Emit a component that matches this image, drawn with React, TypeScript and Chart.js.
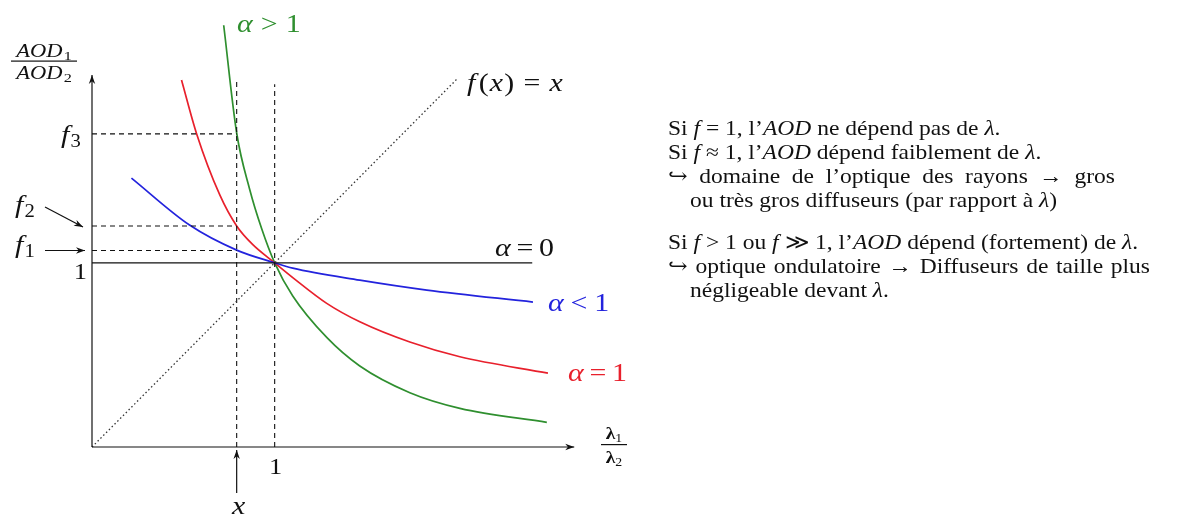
import React, { useEffect, useRef } from "react";
import { Chart, registerables } from "chart.js";
Chart.register(...registerables);

// Curves: AOD1/AOD2 as a function of λ1/λ2
const greenX = [0.721, 0.792, 0.863, 0.929, 1.0, 1.099, 1.285, 1.466, 1.74, 2.014, 2.49];
const greenY = [2.29, 1.705, 1.4, 1.185, 1.0, 0.82, 0.595, 0.44, 0.295, 0.21, 0.134];
const redX = [0.49, 0.573, 0.699, 0.792, 0.879, 1.0, 1.099, 1.285, 1.466, 1.74, 2.014, 2.496];
const redY = [1.993, 1.7, 1.37, 1.2, 1.1, 1.0, 0.92, 0.78, 0.68, 0.57, 0.49, 0.401];
const blueX = [0.216, 0.534, 0.792, 1.0, 1.099, 1.466, 1.833, 2.414];
const blueY = [1.46, 1.205, 1.069, 1.0, 0.971, 0.906, 0.852, 0.787];

const identityX = [0, 2.0];
const alphaZeroX = [0, 2.41];
const xMark = 0.792;
const fLevels = [1.067, 1.2, 1.7]; // f1, f2, f3
const dashedTops = [2.0, 1.97]; // vertical dashed lines at x and at 1
const xAxisEnd = 2.64;
const yAxisEnd = 2.02;

const GREEN = "#2f8f2f";
const RED = "#e8202c";
const BLUE = "#2323dd";
const SERIF = "'Liberation Serif', 'DejaVu Serif', serif";

const rightLines = [
  { top: 128, parts: [["Si ", 0], ["f", 1], [" = 1, l’", 0], ["AOD", 1], [" ne dépend pas de ", 0], ["λ", 1], [".", 0]] },
  { top: 152, parts: [["Si ", 0], ["f", 1], [" ≈ 1, l’", 0], ["AOD", 1], [" dépend faiblement de ", 0], ["λ", 1], [".", 0]] },
  { top: 176, parts: [["↪ domaine de l’optique des rayons → gros", 0]], justify: 447 },
  { top: 200, indent: 22, parts: [["ou très gros diffuseurs (par rapport à ", 0], ["λ", 1], [")", 0]] },
  { top: 242, parts: [["Si ", 0], ["f", 1], [" > 1 ou ", 0], ["f", 1], [" ≫ 1, l’", 0], ["AOD", 1], [" dépend (fortement) de ", 0], ["λ", 1], [".", 0]] },
  { top: 266, parts: [["↪ optique ondulatoire → Diffuseurs de taille plus", 0]], justify: 482 },
  { top: 290, indent: 22, parts: [["négligeable devant ", 0], ["λ", 1], [".", 0]] },
];
const TEXT_SCALE = 1.12;

type Part = { t: string; f: string; dy?: number; gap?: number };
function drawParts(ctx: CanvasRenderingContext2D, x: number, y: number, parts: Part[], align = "left", hs = 1.15) {
  let total = 0;
  for (const p of parts) {
    ctx.font = p.f;
    total += (p.gap || 0) + ctx.measureText(p.t).width;
  }
  total *= hs;
  const sx = align === "center" ? x - total / 2 : align === "right" ? x - total : x;
  ctx.save();
  ctx.translate(sx, y);
  ctx.scale(hs, 1);
  ctx.textAlign = "left";
  ctx.textBaseline = "alphabetic";
  let cx = 0;
  for (const p of parts) {
    cx += p.gap || 0;
    ctx.font = p.f;
    ctx.fillText(p.t, cx, p.dy || 0);
    cx += ctx.measureText(p.t).width;
  }
  ctx.restore();
}

function arrow(ctx: CanvasRenderingContext2D, x1: number, y1: number, x2: number, y2: number) {
  ctx.beginPath();
  ctx.moveTo(x1, y1);
  ctx.lineTo(x2, y2);
  ctx.stroke();
  const a = Math.atan2(y2 - y1, x2 - x1);
  const L = 9, W = 3.2;
  ctx.beginPath();
  ctx.moveTo(x2, y2);
  ctx.lineTo(x2 - L * Math.cos(a) + W * Math.sin(a), y2 - L * Math.sin(a) - W * Math.cos(a));
  ctx.lineTo(x2 - L * 0.7 * Math.cos(a), y2 - L * 0.7 * Math.sin(a));
  ctx.lineTo(x2 - L * Math.cos(a) - W * Math.sin(a), y2 - L * Math.sin(a) + W * Math.cos(a));
  ctx.closePath();
  ctx.fill();
}

const it = (s: number) => `italic ${s}px ${SERIF}`;
const rm = (s: number) => `${s}px ${SERIF}`;
const M = 26; // math label size

const annotPlugin = {
  id: "annot",
  afterDatasetsDraw(chart: any) {
    const ctx: CanvasRenderingContext2D = chart.ctx;
    const xs = chart.scales.x;
    const ys = chart.scales.y;
    const X = (v: number) => xs.getPixelForValue(v);
    const Y = (v: number) => ys.getPixelForValue(v);
    ctx.save();
    ctx.strokeStyle = "#111";
    ctx.fillStyle = "#111";
    ctx.lineWidth = 1.2;
    // axes
    arrow(ctx, X(0), Y(0), X(xAxisEnd), Y(0));
    arrow(ctx, X(0), Y(0), X(0), Y(yAxisEnd));
    // label arrows
    arrow(ctx, 45, 207, X(0) - 9, Y(fLevels[1]) + 1);
    arrow(ctx, 45, Y(fLevels[0]), X(0) - 7, Y(fLevels[0]));
    arrow(ctx, X(xMark), 493, X(xMark), Y(0) + 3);

    // text labels
    ctx.fillStyle = "#111";
    drawParts(ctx, 61, 143, [{ t: "f", f: it(M) }, { t: "3", f: rm(18), dy: 4, gap: 1 }]);
    drawParts(ctx, 15, 213, [{ t: "f", f: it(M) }, { t: "2", f: rm(18), dy: 4, gap: 1 }]);
    drawParts(ctx, 15, 253, [{ t: "f", f: it(M) }, { t: "1", f: rm(18), dy: 4, gap: 1 }]);
    drawParts(ctx, 87, 279, [{ t: "1", f: rm(23) }], "right");
    drawParts(ctx, X(1) + 1, 474, [{ t: "1", f: rm(23) }], "center");
    drawParts(ctx, X(xMark) + 2, 514, [{ t: "x", f: it(M) }], "center");

    // y axis label fraction
    drawParts(ctx, 44, 57, [{ t: "AOD", f: it(18) }, { t: "1", f: rm(13), dy: 3, gap: 1 }], "center", 1.25);
    ctx.fillRect(11, 60.5, 66, 1.2);
    drawParts(ctx, 44, 79, [{ t: "AOD", f: it(18) }, { t: "2", f: rm(13), dy: 3, gap: 1 }], "center", 1.25);
    // x axis label fraction
    drawParts(ctx, 614, 439, [{ t: "λ", f: `bold 17px ${SERIF}` }, { t: "1", f: rm(12), dy: 3 }], "center");
    ctx.fillRect(601, 444, 26, 1.2);
    drawParts(ctx, 614, 463, [{ t: "λ", f: `bold 17px ${SERIF}` }, { t: "2", f: rm(12), dy: 3 }], "center");

    // curve labels
    drawParts(ctx, 467, 91, [
      { t: "f", f: it(M) }, { t: "(", f: rm(M), gap: 3 }, { t: "x", f: it(M), gap: 1 }, { t: ")", f: rm(M), gap: 1 },
      { t: "=", f: rm(M), gap: 8 }, { t: "x", f: it(M), gap: 8 },
    ]);
    drawParts(ctx, 495, 256, [{ t: "α", f: it(M) }, { t: "=", f: rm(M), gap: 5 }, { t: "0", f: rm(M), gap: 5 }]);
    ctx.fillStyle = GREEN;
    drawParts(ctx, 237, 32, [{ t: "α", f: it(M) }, { t: ">", f: rm(M), gap: 7 }, { t: "1", f: rm(M), gap: 7 }]);
    ctx.fillStyle = BLUE;
    drawParts(ctx, 548, 311, [{ t: "α", f: it(M) }, { t: "<", f: rm(M), gap: 6 }, { t: "1", f: rm(M), gap: 6 }]);
    ctx.fillStyle = RED;
    drawParts(ctx, 568, 381, [{ t: "α", f: it(M) }, { t: "=", f: rm(M), gap: 5 }, { t: "1", f: rm(M), gap: 5 }]);
    ctx.restore();
  },
};

const pts = (xs: number[], ys: number[]) => xs.map((x, i) => ({ x, y: ys[i] }));

export default function App() {
  const ref = useRef<HTMLCanvasElement>(null);
  useEffect(() => {
    if (!ref.current) return;
    const dashed = { borderColor: "#111", borderWidth: 1.1, borderDash: [5, 4], pointRadius: 0, tension: 0 };
    const curve = { borderWidth: 1.7, pointRadius: 0, cubicInterpolationMode: "monotone" };
    const chart = new Chart(ref.current, {
      type: "line",
      data: {
        datasets: [
          { data: pts(identityX, identityX), borderColor: "#333", borderWidth: 1.3, borderDash: [1.5, 2.5], pointRadius: 0 },
          { data: pts(alphaZeroX, alphaZeroX.map(() => 1)), borderColor: "#111", borderWidth: 1.2, pointRadius: 0 },
          { data: pts([xMark, xMark], [0, dashedTops[0]]), ...dashed },
          { data: pts([1, 1], [0, dashedTops[1]]), ...dashed },
          ...fLevels.map((f) => ({ data: pts([0, xMark], [f, f]), ...dashed })),
          { data: pts(blueX, blueY), borderColor: BLUE, ...curve },
          { data: pts(redX, redY), borderColor: RED, ...curve },
          { data: pts(greenX, greenY), borderColor: GREEN, ...curve },
        ] as any,
      },
      options: {
        animation: false,
        responsive: false,
        maintainAspectRatio: false,
        layout: { padding: { left: 92, right: 542, top: 5, bottom: 71 } },
        plugins: { legend: { display: false }, tooltip: { enabled: false } },
        elements: { line: { fill: false } },
        datasets: { line: { clip: false } as any },
        scales: {
          x: { type: "linear", min: 0, max: 3, display: false },
          y: { type: "linear", min: 0, max: 2.4, display: false },
        },
      },
      plugins: [annotPlugin],
    });
    return () => chart.destroy();
  }, []);

  return (
    <div style={{ position: "absolute", left: 0, top: 0, width: 1182, height: 518, background: "#fff", overflow: "hidden" }}>
      <canvas ref={ref} width={1182} height={518} style={{ display: "block", width: 1182, height: 518 }} />
      {rightLines.map((ln, i) => (
        <div
          key={i}
          style={{
            position: "absolute",
            left: 668 + (ln.indent || 0),
            top: ln.top - 13,
            height: 26,
            lineHeight: "26px",
            fontFamily: SERIF,
            fontSize: 21,
            color: "#111",
            transform: `scaleX(${TEXT_SCALE})`,
            transformOrigin: "left center",
            whiteSpace: ln.justify ? "normal" : "pre",
            width: ln.justify ? ln.justify / TEXT_SCALE : undefined,
            textAlign: ln.justify ? "justify" : undefined,
            textAlignLast: ln.justify ? "justify" : undefined,
          } as any}
        >
          {ln.parts.map(([t, isIt], j) => (isIt ? <i key={j}>{t as string}</i> : <span key={j}>{t as string}</span>))}
        </div>
      ))}
    </div>
  );
}
